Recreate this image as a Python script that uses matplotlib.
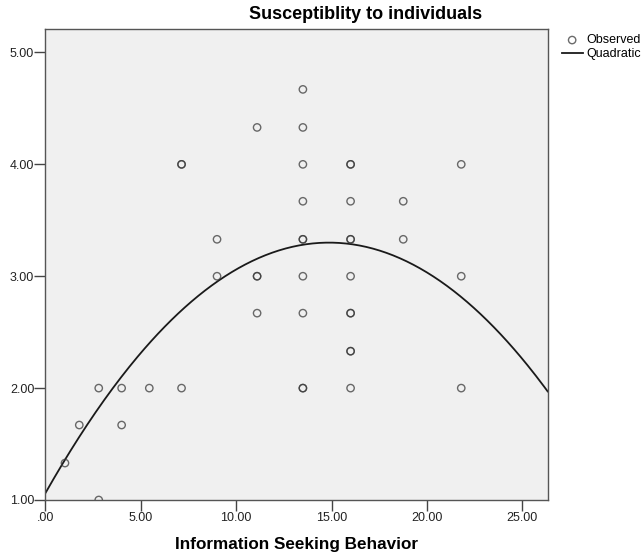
import numpy as np
import matplotlib
matplotlib.use("Agg")
import matplotlib.pyplot as plt

plt.rcParams['font.family'] = ['Liberation Sans', 'DejaVu Sans']

# observed points (duplicates drawn twice -> darker circles, like SPSS)
info_seeking = [1.03, 1.78, 2.80, 2.80, 4.00, 4.00, 5.45,
                7.14, 7.14, 7.14,
                9.00, 9.00,
                11.10, 11.10, 11.10, 11.10,
                13.50, 13.50, 13.50, 13.50, 13.50, 13.50, 13.50, 13.50, 13.50, 13.50,
                16.00, 16.00, 16.00, 16.00, 16.00, 16.00, 16.00, 16.00, 16.00, 16.00, 16.00,
                18.76, 18.76,
                21.80, 21.80, 21.80]
susceptibility = [1.33, 1.67, 2.00, 1.00, 2.00, 1.67, 2.00,
                  2.00, 4.00, 4.00,
                  3.33, 3.00,
                  4.33, 3.00, 3.00, 2.67,
                  4.67, 4.33, 4.00, 3.67, 3.33, 3.33, 3.00, 2.67, 2.00, 2.00,
                  4.00, 4.00, 3.67, 3.33, 3.33, 3.00, 2.67, 2.67, 2.33, 2.33, 2.00,
                  3.67, 3.33,
                  4.00, 3.00, 2.00]

# quadratic fit coefficients: b0 + b1*x + b2*x^2
b0, b1, b2 = 1.06, 0.3013, -0.01013

x_ticks = [0, 5, 10, 15, 20, 25]
x_labels = ['.00', '5.00', '10.00', '15.00', '20.00', '25.00']
y_ticks = [1, 2, 3, 4, 5]
y_labels = ['1.00', '2.00', '3.00', '4.00', '5.00']

fig = plt.figure(figsize=(6.41, 5.54), dpi=100)
ax = fig.add_axes([0.0707, 0.0975, 0.7837, 0.8502])
ax.set_facecolor('#f0f0f0')

ax.scatter(info_seeking, susceptibility, s=28, facecolors='none',
           edgecolors='#3a3a3a', linewidths=1.0, alpha=0.75, label='Observed', zorder=3)

xs = np.linspace(0, 26.33, 300)
ax.plot(xs, b0 + b1 * xs + b2 * xs ** 2, color='#1a1a1a', lw=1.3, label='Quadratic', zorder=2)

ax.set_xlim(0, 26.33)
ax.set_ylim(1.0, 5.21)
ax.set_xticks(x_ticks)
ax.set_xticklabels(x_labels)
ax.set_yticks(y_ticks)
ax.set_yticklabels(y_labels)
ax.tick_params(direction='out', length=8, width=1, color='#444444',
               labelsize=9, labelcolor='#222222')
ax.tick_params(axis='y', pad=0)
ax.tick_params(axis='x', pad=1)
for s in ax.spines.values():
    s.set_color('#555555')
    s.set_linewidth(1.0)

ax.set_xlabel('Information Seeking Behavior', fontsize=12.3, fontweight='bold', labelpad=9)
fig.text(0.571, 0.973, 'Susceptiblity to individuals', ha='center', va='center',
         fontsize=13, fontweight='bold')

fig.legend(loc='upper left', bbox_to_anchor=(0.876, 0.938), frameon=False,
           fontsize=9, handlelength=1.7, handletextpad=0.3, labelspacing=0.15,
           borderaxespad=0, borderpad=0)

fig.savefig('out.png', dpi=100)
